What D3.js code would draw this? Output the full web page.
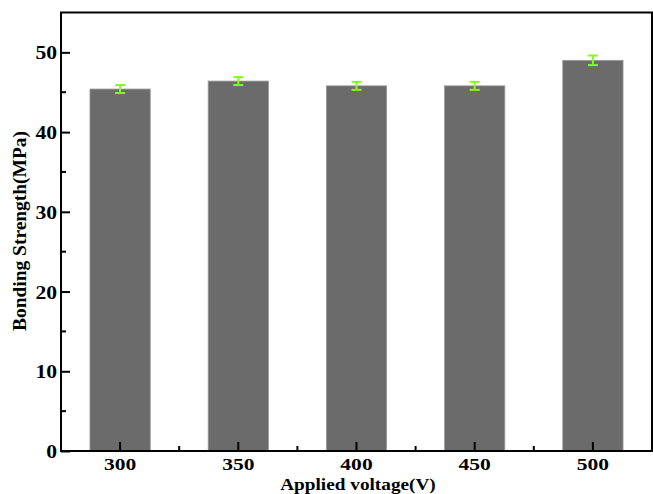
<!DOCTYPE html>
<html>
<head>
<meta charset="utf-8">
<script src="https://cdn.jsdelivr.net/npm/d3@7"></script>
<style>
  body { margin: 0; background: #fff; }
  text { font-family: "Liberation Serif", "Times New Roman", serif; font-weight: bold; fill: #000; }
</style>
</head>
<body>
<script>
// data
const voltages = ["300", "350", "400", "450", "500"];
const strength = [45.4, 46.4, 45.8, 45.8, 49.0];
const errors = [0.5, 0.5, 0.5, 0.5, 0.6];
const yTicks = [0, 10, 20, 30, 40, 50];

// layout
const w = 653, h = 494;
const plotL = 61, plotR = 652, plotT = 12.5, plotB = 451;

const x = d3.scaleBand().domain(voltages).range([plotL, plotR]).padding(0);
const barW = x.bandwidth() * 0.51;
const y = d3.scaleLinear().domain([0, 55]).range([plotB, plotT]);

const svg = d3.select("body").append("svg")
  .attr("width", w)
  .attr("height", h);

// the original font is a bit wider than Liberation Serif, stretch a little
function widen(sel, k) {
  sel.each(function () {
    const len = this.getComputedTextLength();
    d3.select(this)
      .attr("textLength", len * k)
      .attr("lengthAdjust", "spacingAndGlyphs");
  });
}

// bars
svg.selectAll("rect.bar")
  .data(voltages)
  .enter()
  .append("rect")
  .attr("class", "bar")
  .attr("x", d => x(d) + x.bandwidth() / 2 - barW / 2)
  .attr("y", (d, i) => y(strength[i]))
  .attr("width", barW)
  .attr("height", (d, i) => y(0) - y(strength[i]))
  .attr("fill", "#6b6b6b")
  .attr("stroke", "#9a9a9a")
  .attr("stroke-width", 0.8);

// error bars
const eb = svg.selectAll("g.err")
  .data(voltages)
  .enter()
  .append("g")
  .attr("class", "err")
  .attr("stroke", "#7fff1f")
  .attr("stroke-width", 2);
const cx = d => x(d) + x.bandwidth() / 2;
eb.append("line")
  .attr("x1", cx).attr("x2", cx)
  .attr("y1", (d, i) => y(strength[i] + errors[i]))
  .attr("y2", (d, i) => y(strength[i] - errors[i]));
eb.append("line")
  .attr("x1", d => cx(d) - 5).attr("x2", d => cx(d) + 5)
  .attr("y1", (d, i) => y(strength[i] + errors[i]))
  .attr("y2", (d, i) => y(strength[i] + errors[i]));
eb.append("line")
  .attr("x1", d => cx(d) - 5).attr("x2", d => cx(d) + 5)
  .attr("y1", (d, i) => y(strength[i] - errors[i]))
  .attr("y2", (d, i) => y(strength[i] - errors[i]));

// y axis, ticks pointing inward
const yAxis = svg.append("g")
  .attr("transform", `translate(${plotL},0)`)
  .call(d3.axisRight(y).tickValues(yTicks).tickSize(9).tickFormat(d3.format("d")));
yAxis.select(".domain").remove();
yAxis.selectAll(".tick line").attr("stroke", "#000").attr("stroke-width", 2);
yAxis.selectAll(".tick text")
  .attr("x", -4)
  .attr("text-anchor", "end")
  .attr("dy", "0.36em")
  .style("font-size", "18px")
  .call(widen, 1.2);
// minor y ticks
svg.append("g").selectAll("line")
  .data([5, 15, 25, 35, 45])
  .enter()
  .append("line")
  .attr("x1", plotL).attr("x2", plotL + 5)
  .attr("y1", d => y(d)).attr("y2", d => y(d))
  .attr("stroke", "#000").attr("stroke-width", 2);

// x axis, ticks pointing inward
const xAxis = svg.append("g")
  .attr("transform", `translate(0,${plotB})`)
  .call(d3.axisTop(x).tickSize(9));
xAxis.select(".domain").remove();
xAxis.selectAll(".tick line").attr("stroke", "#000").attr("stroke-width", 2);
xAxis.selectAll(".tick text")
  .attr("y", 19)
  .attr("dy", 0)
  .attr("text-anchor", "middle")
  .style("font-size", "17.5px")
  .call(widen, 1.23);
// minor x ticks between categories
svg.append("g").selectAll("line")
  .data(voltages.slice(1))
  .enter()
  .append("line")
  .attr("x1", d => x(d)).attr("x2", d => x(d))
  .attr("y1", plotB).attr("y2", plotB - 5)
  .attr("stroke", "#000").attr("stroke-width", 2);

// frame
svg.append("rect")
  .attr("x", plotL).attr("y", plotT)
  .attr("width", plotR - plotL).attr("height", plotB - plotT)
  .attr("fill", "none")
  .attr("stroke", "#000")
  .attr("stroke-width", 2);

// axis titles
svg.append("text")
  .attr("x", 358)
  .attr("y", 490)
  .attr("text-anchor", "middle")
  .style("font-size", "17.5px")
  .text("Applied voltage(V)")
  .call(widen, 1.1);

svg.append("text")
  .attr("transform", `translate(26,231) rotate(-90)`)
  .attr("text-anchor", "middle")
  .style("font-size", "18px")
  .text("Bonding Strength(MPa)")
  .call(widen, 1.08);
</script>
</body>
</html>
